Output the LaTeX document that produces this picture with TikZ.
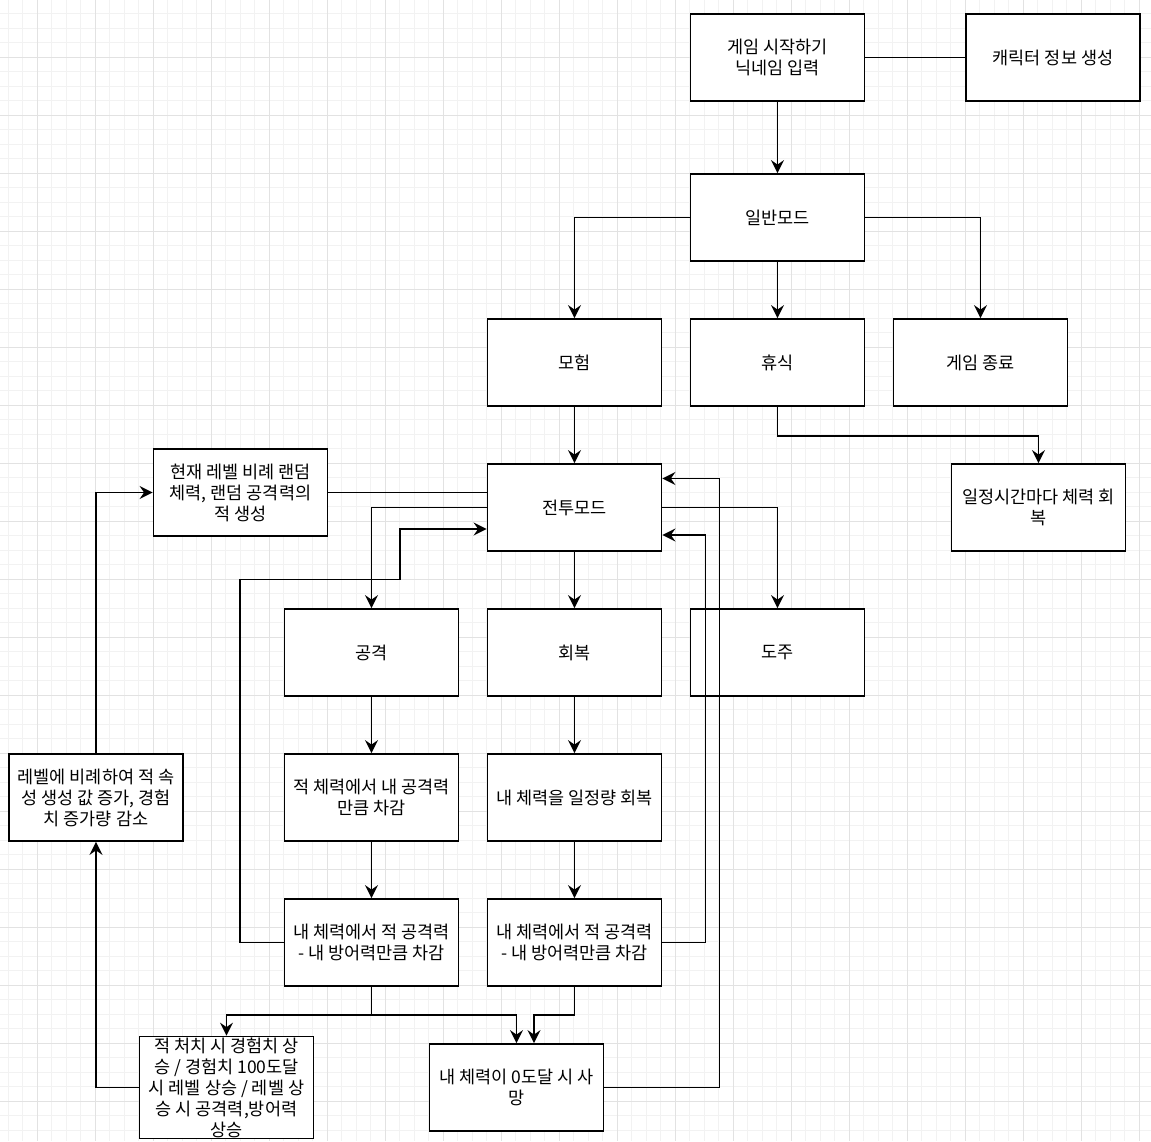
\documentclass[tikz,border=0pt]{standalone}
\usepackage{fontspec}
\setmainfont{Noto Sans CJK KR}
\usetikzlibrary{arrows.meta,calc}
\definecolor{gmajor}{HTML}{E2E2E2}
\definecolor{gminor}{HTML}{F2F2F2}
\begin{document}
\begin{tikzpicture}[x=1pt,y=-1pt,
  stepbox/.style={draw=black,line width=1.8pt,fill=white,minimum width=174pt,minimum height=87pt,inner sep=1pt,align=center,font=\fontsize{17.5}{21}\selectfont},
  conn/.style={draw=black,line width=1.8pt},
  arr/.style={conn,-{Stealth[length=13pt,width=13pt,inset=4.5pt]}},
  minorline/.style={gminor,line width=0.8pt},
  majorline/.style={gmajor,line width=0.9pt}]
\useasboundingbox (0,0) rectangle (1151,1141);
\fill[white] (0,0) rectangle (1151,1141);
% grid
\foreach \i in {0,...,78} \draw[minorline] ({8.3+14.5*\i},0) -- ++(0,1141);
\foreach \i in {0,...,77} \draw[minorline] (0,{13.8+14.5*\i}) -- ++(1151,0);
\foreach \i in {0,...,19} \draw[majorline] ({37.3+58*\i},0) -- ++(0,1141);
\foreach \i in {0,...,18} \draw[majorline] (0,{57.3+58*\i}) -- ++(1151,0);
% nodes
\node[stepbox] (start) at (777.5,57.5) {게임 시작하기\\닉네임 입력};
\node[stepbox] (char) at (1053,57.5) {캐릭터 정보 생성};
\node[stepbox] (normal) at (777.5,217.5) {일반모드};
\node[stepbox] (adv) at (574.5,362.5) {모험};
\node[stepbox] (rest) at (777.5,362.5) {휴식};
\node[stepbox] (quit) at (980.5,362.5) {게임 종료};
\node[stepbox] (spawn) at (240.5,492.5) {현재 레벨 비례 랜덤\\체력, 랜덤 공격력의\\적 생성};
\node[stepbox] (timer) at (1038.5,507.5) {일정시간마다 체력 회\\복};
\node[stepbox] (battle) at (574.5,507.5) {전투모드};
\node[stepbox] (attack) at (371.5,652.5) {공격};
\node[stepbox] (recover) at (574.5,652.5) {회복};
\node[stepbox] (flee) at (777.5,652.5) {도주};
\node[stepbox] (level) at (96,797.5) {레벨에 비례하여 적 속\\성 생성 값 증가, 경험\\치 증가량 감소};
\node[stepbox] (dmg) at (371.5,797.5) {적 체력에서 내 공격력\\만큼 차감};
\node[stepbox] (recamt) at (574.5,797.5) {내 체력을 일정량 회복};
\node[stepbox] (hitL) at (371.5,942.5) {내 체력에서 적 공격력\\- 내 방어력만큼 차감};
\node[stepbox] (hitR) at (574.5,942.5) {내 체력에서 적 공격력\\- 내 방어력만큼 차감};
\node[stepbox] (kill) at (226.5,1087.5) {적 처치 시 경험치 상\\승 / 경험치 100도달\\시 레벨 상승 / 레벨 상\\승 시 공격력,방어력\\상승};
\node[stepbox] (death) at (516.5,1087.5) {내 체력이 0도달 시 사\\망};
% connectors
\draw[conn] (start.east) -- (char.west);
\draw[arr] (start) -- (normal);
\draw[arr] (normal.west) -| (adv.north);
\draw[arr] (normal) -- (rest);
\draw[arr] (normal.east) -| (quit.north);
\draw[arr] (rest.south) -- ++(0,29) -| (timer.north);
\draw[arr] (adv) -- (battle);
\draw[conn] (spawn.east) -- (spawn.east -| battle.west);
\draw[arr] (battle.west) -| (attack.north);
\draw[arr] (hitL.west) -- ++(-44,0) -- ++(0,-363) -- ++(160,0) |- ([yshift=-21.5pt]battle.west);
\draw[arr] (battle) -- (recover);
\draw[arr] (battle.east) -| (flee.north);
\draw[arr] (death.east) -- ++(115,0) |- ([yshift=29pt]battle.east);
\draw[arr] (hitR.east) -- ++(43,0) |- ([yshift=-27.5pt]battle.east);
\draw[arr] (attack) -- (dmg);
\draw[arr] (dmg) -- (hitL);
\draw[arr] (recover) -- (recamt);
\draw[arr] (recamt) -- (hitR);
\draw[arr] (hitL.south) -- ++(0,28) -| (kill.north);
\draw[arr] (hitL.south) -- ++(0,28) -| (death.north);
\draw[arr] (hitR.south) -- ++(0,28) -| ([xshift=17.5pt]death.north);
\draw[arr] (kill.west) -| (level.south);
\draw[arr] (level.north) |- (spawn.west);
\end{tikzpicture}
\end{document}
